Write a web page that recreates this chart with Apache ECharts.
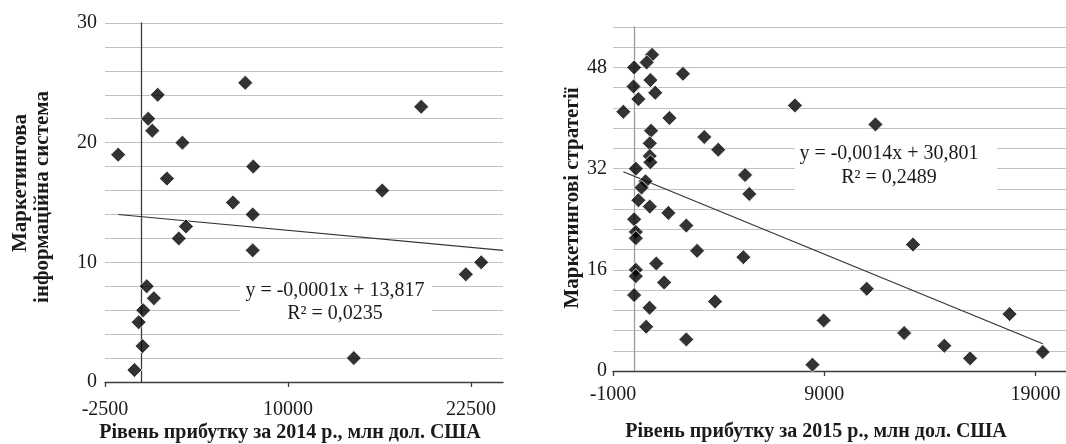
<!DOCTYPE html>
<html><head><meta charset="utf-8">
<script src="https://cdn.jsdelivr.net/npm/echarts@6/dist/echarts.min.js"></script>
<style>html,body{margin:0;padding:0;background:#fff}#c{width:1066px;height:444px}</style>
</head><body><div id="c"></div>
<script>
// ---- Chart 1 (2014) ----
const x2014 = [-1600, 1100, 450, 730, 2790, 1730, 7080, 7630, 6240, 7590, 3030, 2540, 7590, 350, 840, 110, -200, 70, -490, 19100, 16440, 23200, 22150, 14500];
const y2014 = [19, 24, 22, 21, 20, 17, 25, 18, 15, 14, 13, 12, 11, 8, 7, 6, 5, 3, 1, 23, 16, 10, 9, 2];
const xTicks2014 = [-2500, 10000, 22500];
const yMajor2014 = 10;
const trend2014 = [-0.000114, 13.817];           // slope, intercept (drawn line)
const eq2014 = ['y = -0,0001x + 13,817', 'R² = 0,0235'];
const xTitle2014 = 'Рівень прибутку за 2014 р., млн дол. США';
const yTitle2014 = ['Маркетингова', 'інформаційна система'];

// ---- Chart 2 (2015) ----
const x2015 = [850, 590, 0, 2310, 770, -30, 1000, 200, -510, 7610, 1670, 800, 3320, 740, 3980, 740, 770, 80, 5250, 540, 350, 5450, 200, 740, 1620, 0, 2470, 80, 80, 2980, 5170, 1050, 80, 80, 1420, 0, 3830, 730, 570, 2470, 8440, 11420, 13200, 11010, 8970, 17770, 12780, 14680, 15900, 19340];
const y2015 = [50, 48.8, 48, 47, 46, 45, 44, 43, 41, 42, 40, 38, 37, 36, 35, 34, 33, 32, 31, 30, 29, 28, 27, 26, 25, 24, 23, 22, 21, 19, 18, 17, 16, 15, 14, 12, 11, 10, 7, 5, 1, 39, 20, 13, 8, 9, 6, 4, 2, 3];
const xTicks2015 = [-1000, 9000, 19000];
const yMajor2015 = 16;
const trend2015 = [-0.00137, 30.801];
const eq2015 = ['y = -0,0014x + 30,801', 'R² = 0,2489'];
const xTitle2015 = 'Рівень прибутку за 2015 р., млн дол. США';
const yTitle2015 = 'Маркетингові стратегії';

const FONT = '"Liberation Serif", "Times New Roman", serif';
const TXT = '#1a1a1a';
const GRID = '#c0c0c0';

const pts2014 = x2014.map((x, i) => [x, y2014[i]]);
const pts2015 = x2015.map((x, i) => [x, y2015[i]]);
const line = (c, a, b) => [[a, c[0] * a + c[1]], [b, c[0] * b + c[1]]];
const plain = v => String(Math.round(v));
const majorOnly = m => v => (Math.abs(v / m - Math.round(v / m)) < 1e-6 ? plain(v) : '');

const X1 = [-2500, 24690], X2 = [-1000, 20440];

function xAxis(idx, ext, ticks, margin) {
  return {
    type: 'value', gridIndex: idx, min: ext[0], max: ext[1],
    splitLine: { show: false },
    axisLine: { onZero: false, lineStyle: { color: '#3c3c3c', width: 1.3 } },
    axisTick: { show: true, customValues: ticks, length: 5, lineStyle: { color: '#3c3c3c', width: 1.3 } },
    axisLabel: { customValues: ticks, formatter: plain, margin: margin, color: TXT, fontFamily: FONT, fontSize: 20 }
  };
}
function yAxis(idx, max, interval, major, margin, lineColor) {
  return {
    type: 'value', gridIndex: idx, min: 0, max: max, interval: interval,
    splitLine: { show: true, lineStyle: { color: GRID, width: 1.2 } },
    axisLine: { show: true, onZero: true, lineStyle: { color: lineColor, width: 1.3 } },
    axisTick: { show: false },
    axisLabel: { interval: 0, formatter: majorOnly(major), margin: margin, color: TXT, fontFamily: FONT, fontSize: 20 }
  };
}
const scatterStyle = { color: '#000', borderColor: '#fff', borderWidth: 1 };
const titleFont = 'bold 20px ' + FONT;
const yTitleFont = 'bold 21px ' + FONT;

const option = {
  backgroundColor: '#fff',
  animation: false,
  grid: [
    { left: 105, top: 23, width: 398, height: 359 },
    { left: 613, top: 27, width: 453, height: 344 }
  ],
  xAxis: [
    xAxis(0, X1, xTicks2014, 18),
    xAxis(1, X2, xTicks2015, 14)
  ],
  yAxis: [
    yAxis(0, 30, 2, yMajor2014, 8, '#3c3c3c'),
    yAxis(1, 54.4, 3.2, yMajor2015, 6, '#9a9a9a')
  ],
  series: [
    { type: 'line', xAxisIndex: 0, yAxisIndex: 0, data: line(trend2014, Math.min(...x2014), X1[1]),
      symbol: 'none', lineStyle: { color: '#333', width: 1.2 }, z: 3, silent: true },
    { type: 'scatter', xAxisIndex: 0, yAxisIndex: 0, data: pts2014, symbol: 'diamond', symbolSize: 15, itemStyle: scatterStyle, z: 4 },
    { type: 'line', xAxisIndex: 1, yAxisIndex: 1, data: line(trend2015, Math.min(...x2015), Math.max(...x2015)),
      symbol: 'none', lineStyle: { color: '#333', width: 1.2 }, z: 3, silent: true },
    { type: 'scatter', xAxisIndex: 1, yAxisIndex: 1, data: pts2015, symbol: 'diamond', symbolSize: 15, itemStyle: scatterStyle, z: 4 }
  ],
  graphic: [
    { type: 'rect', shape: { x: 240, y: 278, width: 192, height: 45 }, style: { fill: '#fff' }, z: 10 },
    { type: 'text', x: 335, y: 302, z: 11,
      style: { text: eq2014.join('\n'), align: 'center', verticalAlign: 'middle', font: '20px ' + FONT, fill: TXT, lineHeight: 23 } },
    { type: 'rect', shape: { x: 795, y: 143, width: 202, height: 47 }, style: { fill: '#fff' }, z: 10 },
    { type: 'text', x: 889, y: 166, z: 11,
      style: { text: eq2015.join('\n'), align: 'center', verticalAlign: 'middle', font: '20px ' + FONT, fill: TXT, lineHeight: 24 } },
    // axis titles
    { type: 'text', x: 290, y: 433, z: 11,
      style: { text: xTitle2014, align: 'center', verticalAlign: 'middle', font: titleFont, fill: TXT } },
    { type: 'text', x: 816, y: 432, z: 11,
      style: { text: xTitle2015, align: 'center', verticalAlign: 'middle', font: titleFont, fill: TXT } },
    { type: 'text', x: 21, y: 183, rotation: Math.PI / 2, z: 11,
      style: { text: yTitle2014[0], align: 'center', verticalAlign: 'middle', font: yTitleFont, fill: TXT } },
    { type: 'text', x: 43, y: 197, rotation: Math.PI / 2, z: 11,
      style: { text: yTitle2014[1], align: 'center', verticalAlign: 'middle', font: yTitleFont, fill: TXT } },
    { type: 'text', x: 573, y: 198, rotation: Math.PI / 2, z: 11,
      style: { text: yTitle2015, align: 'center', verticalAlign: 'middle', font: yTitleFont, fill: TXT } }
  ]
};
const chart = echarts.init(document.getElementById('c'));
chart.setOption(option);
</script></body></html>
